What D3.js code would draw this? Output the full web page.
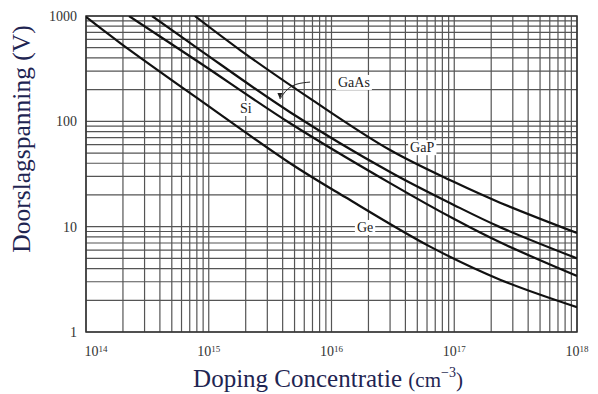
<!DOCTYPE html>
<html>
<head>
<meta charset="utf-8">
<script src="https://cdn.jsdelivr.net/npm/d3@7"></script>
<style>
  body { margin: 0; background: #fff; }
  svg { display: block; }
  text { font-family: "Liberation Serif", "DejaVu Serif", serif; }
</style>
</head>
<body>
<div id="chart"></div>
<script>
// breakdown voltage curves, [doping (cm^-3), voltage (V)]
var ge   = [[1e14, 980], [1.9e14, 554], [8.5e14, 159], [4.6e15, 40], [1.29e16, 19.1], [6.3e16, 6.5], [2.36e17, 3.14], [1e18, 1.72]];
var si   = [[2.24e14, 1000], [8.5e14, 358], [4.6e15, 96], [3e16, 25.9], [1e17, 11.8], [2.36e17, 7.1], [1e18, 3.4]];
var gaas = [[3.45e14, 1000], [8.5e14, 475], [4.6e15, 122], [3e16, 33], [1e17, 16], [2.36e17, 9.9], [1e18, 5.0]];
var gap  = [[7.7e14, 1000], [1.8e15, 475], [7e15, 159], [3e16, 53.4], [1e17, 26.5], [2.36e17, 16.9], [1e18, 8.7]];

var curves = [ge, si, gaas, gap];

// curve labels [text, doping, voltage]
var curve_labels = [["GaAs", 1.13e16, 212], ["Si", 1.8e15, 120], ["GaP", 4.37e16, 51], ["Ge", 1.61e16, 8.9]];
var arrow_pts = [[6.7e15, 236], [4.6e15, 226], [3.8e15, 163]];

var x_ticks = [1e14, 1e15, 1e16, 1e17, 1e18];
var x_exps = ["14", "15", "16", "17", "18"];
var y_ticks = [1, 10, 100, 1000];
var y_tick_labels = ["1", "10", "100", "1000"];

var width = 598, height = 394;
var margin = {top: 16, right: 21, bottom: 62, left: 86};
var plot_w = width - margin.left - margin.right;
var plot_h = height - margin.top - margin.bottom;

var svg = d3.select("#chart").append("svg")
    .attr("width", width)
    .attr("height", height);

var g = svg.append("g")
    .attr("transform", "translate(" + margin.left + "," + margin.top + ")");

var x = d3.scaleLog().domain([1e14, 1e18]).range([0, plot_w]);
var y = d3.scaleLog().domain([1, 1000]).range([plot_h, 0]);

// grid: every 1..9 x decade
var minor_x = [], minor_y = [];
for (var e = 14; e < 18; e++) {
    for (var m = 2; m <= 9; m++) minor_x.push(m * Math.pow(10, e));
}
for (var e2 = 0; e2 < 3; e2++) {
    for (var m2 = 2; m2 <= 9; m2++) minor_y.push(m2 * Math.pow(10, e2));
}

g.selectAll(".vgrid").data(minor_x.concat(x_ticks)).enter().append("line")
    .attr("x1", function(d) { return x(d); })
    .attr("x2", function(d) { return x(d); })
    .attr("y1", 0).attr("y2", plot_h)
    .attr("stroke", "#555").attr("stroke-width", 1.2);

g.selectAll(".hgrid").data(minor_y.concat(y_ticks)).enter().append("line")
    .attr("y1", function(d) { return y(d); })
    .attr("y2", function(d) { return y(d); })
    .attr("x1", 0).attr("x2", plot_w)
    .attr("stroke", "#555").attr("stroke-width", 1.2);

g.append("rect")
    .attr("width", plot_w).attr("height", plot_h)
    .attr("fill", "none").attr("stroke", "#333").attr("stroke-width", 1.5);

// curves
g.append("clipPath").attr("id", "clip").append("rect")
    .attr("width", plot_w).attr("height", plot_h);

var line = d3.line()
    .x(function(d) { return x(d[0]); })
    .y(function(d) { return y(d[1]); })
    .curve(d3.curveCatmullRom.alpha(0.5));

// label backgrounds and labels
var lbl = g.selectAll(".lbl").data(curve_labels).enter().append("g");
lbl.append("text")
    .attr("x", function(d) { return x(d[1]); })
    .attr("y", function(d) { return y(d[2]); })
    .attr("font-size", 14)
    .attr("fill", "#222")
    .text(function(d) { return d[0]; });
lbl.each(function() {
    var t = d3.select(this).select("text");
    var b = t.node().getBBox();
    d3.select(this).insert("rect", "text")
        .attr("x", b.x - 2).attr("y", b.y)
        .attr("width", b.width + 4).attr("height", b.height)
        .attr("fill", "#fff");
});

g.selectAll(".curve").data(curves).enter().append("path")
    .attr("clip-path", "url(#clip)")
    .attr("d", line)
    .attr("fill", "none")
    .attr("stroke", "#111")
    .attr("stroke-width", 2.2);

// GaAs arrow
var arrow_line = d3.line()
    .x(function(d) { return x(d[0]); })
    .y(function(d) { return y(d[1]); })
    .curve(d3.curveBasis);
g.append("path")
    .attr("d", arrow_line(arrow_pts))
    .attr("fill", "none").attr("stroke", "#222").attr("stroke-width", 1);
var tip = arrow_pts[arrow_pts.length - 1];
var tx = x(tip[0]), ty = y(tip[1]);
g.append("path")
    .attr("d", "M" + (tx - 2.5) + "," + (ty - 6) + "L" + tx + "," + ty + "L" + (tx + 2.5) + "," + (ty - 6) + "Z")
    .attr("fill", "#222");

// y tick labels
g.selectAll(".ytl").data(y_ticks).enter().append("text")
    .attr("x", -9)
    .attr("y", function(d) { return y(d); })
    .attr("dy", "0.35em")
    .attr("text-anchor", "end")
    .attr("font-size", 14)
    .attr("fill", "#333")
    .text(function(d, i) { return y_tick_labels[i]; });

// x tick labels 10^n
var xtl = g.selectAll(".xtl").data(x_ticks).enter().append("text")
    .attr("x", function(d, i) { return x(d) + (i === 0 ? 10 : 0); })
    .attr("y", plot_h + 24)
    .attr("text-anchor", "middle")
    .attr("font-size", 14)
    .attr("fill", "#333");
xtl.append("tspan").text("10");
xtl.append("tspan")
    .attr("dy", "-0.5em")
    .attr("font-size", 9)
    .text(function(d, i) { return x_exps[i]; });

// axis titles
var xt = svg.append("text")
    .attr("x", 328)
    .attr("y", 387)
    .attr("text-anchor", "middle")
    .attr("font-size", 25)
    .attr("fill", "#1f2552");
xt.append("tspan").text("Doping Concentratie ");
xt.append("tspan").attr("font-size", 21).text("(cm");
xt.append("tspan").attr("font-size", 14).attr("dy", "-0.7em").text("\u22123");
xt.append("tspan").attr("font-size", 21).attr("dy", "0.45em").text(")");

svg.append("text")
    .attr("transform", "translate(30,139) rotate(-90)")
    .attr("text-anchor", "middle")
    .attr("font-size", 25.5)
    .attr("fill", "#1f2552")
    .text("Doorslagspanning (V)");
</script>
</body>
</html>
